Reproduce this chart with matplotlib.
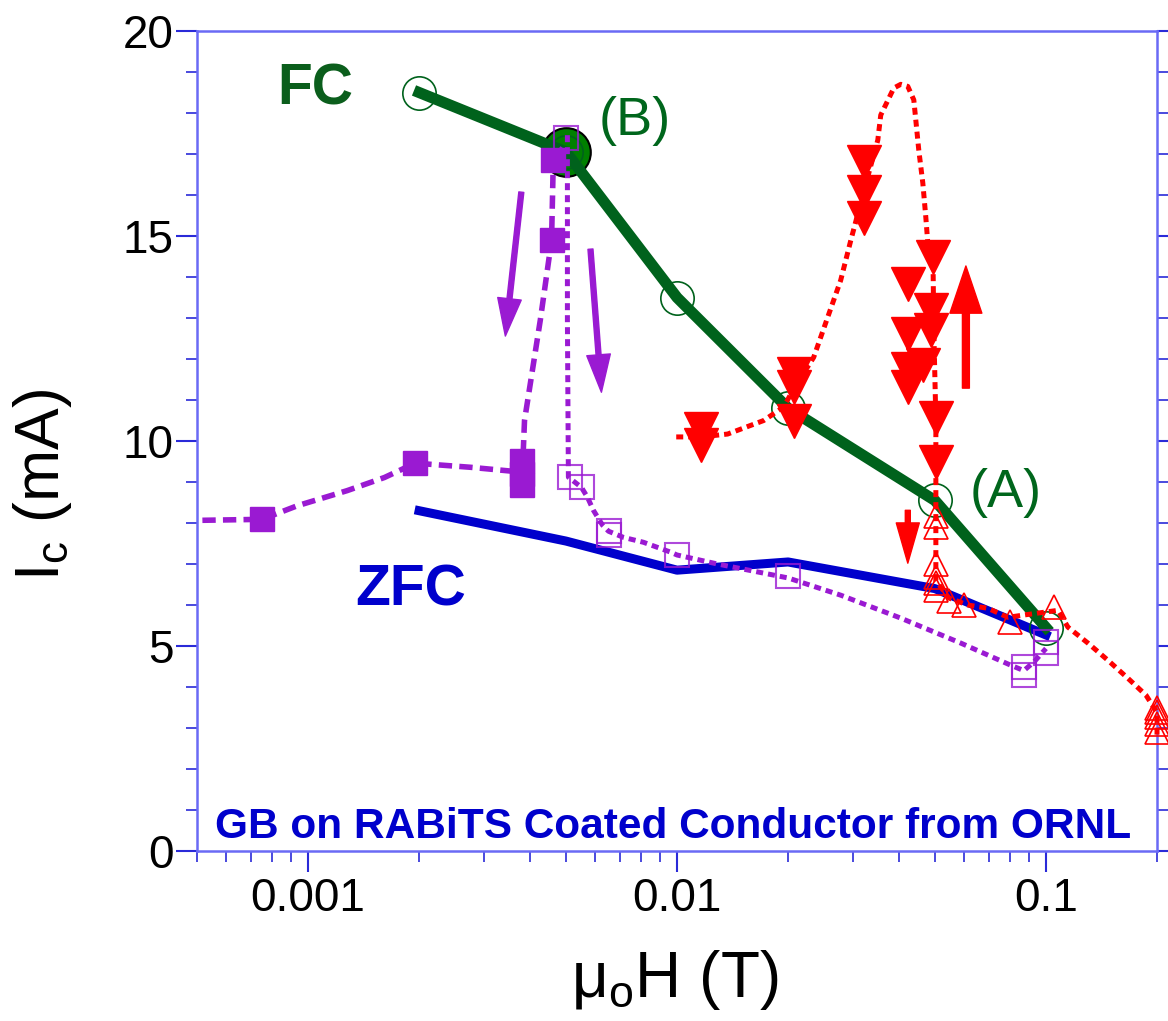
import matplotlib
matplotlib.use('Agg')
import matplotlib.pyplot as plt
from matplotlib.ticker import FixedLocator, FixedFormatter, LogLocator, MultipleLocator, NullFormatter

plt.rcParams['font.family'] = ['Liberation Sans', 'DejaVu Sans']
plt.rcParams['mathtext.fontset'] = 'custom'
plt.rcParams['mathtext.rm'] = 'Liberation Sans'
plt.rcParams['mathtext.it'] = 'Liberation Sans:italic'
plt.rcParams['mathtext.bf'] = 'Liberation Sans:bold'

GREEN = '#00621c'
BLUE = '#0000cc'
PURPLE = '#9a1ad2'
RED = '#ff0000'
SPINE = '#6a6af5'
TICK = '#2a2ad8'

# FC (field cooled)
fc_h = [0.002, 0.005, 0.01, 0.02, 0.05, 0.1]
fc_ic = [18.5, 17.05, 13.5, 10.8, 8.55, 5.45]
point_b_h = [0.005]
point_b_ic = [17.05]

# ZFC (zero field cooled)
zfc_h = [0.002, 0.005, 0.01, 0.02, 0.05, 0.1]
zfc_ic = [8.3, 7.56, 6.85, 7.05, 6.4, 5.27]

# purple filled squares (sweep up)
sq_h = [0.00075, 0.00195, 0.00381, 0.00381, 0.00381, 0.00457, 0.00462]
sq_ic = [8.09, 9.46, 9.51, 9.2, 8.92, 14.9, 16.85]
sq_curve_h = [0.0004, 0.00075, 0.000934, 0.001276, 0.00161, 0.00195, 0.00275,
              0.00381, 0.00386, 0.00426, 0.00457, 0.00462, 0.0049]
sq_curve_ic = [8.05, 8.09, 8.42, 8.79, 9.11, 9.46, 9.36,
               9.24, 10.5, 12.95, 14.9, 16.85, 17.15]

# purple open squares (sweep down)
osq_h = [0.00501, 0.00514, 0.00551, 0.00652, 0.00652, 0.01, 0.02, 0.0871, 0.0871, 0.1, 0.1]
osq_ic = [17.4, 9.12, 8.87, 7.80, 7.70, 7.22, 6.70, 4.48, 4.29, 5.09, 4.82]
osq_curve_h = [0.005045, 0.005045, 0.005076, 0.005506, 0.005716, 0.005934, 0.006278,
               0.00652, 0.006725, 0.007157, 0.008111, 0.009603, 0.01, 0.01288,
               0.02, 0.02777, 0.04042, 0.05881, 0.08035, 0.0871, 0.093, 0.1]
osq_curve_ic = [17.46, 12.95, 9.12, 8.87, 8.63, 8.31, 7.95,
                7.80, 7.75, 7.65, 7.53, 7.29, 7.22, 7.00,
                6.66, 6.24, 5.68, 5.07, 4.53, 4.40, 4.62, 4.94]

# red filled down triangles
tri_h = [0.0116, 0.0116, 0.0208, 0.0208, 0.0208, 0.0321, 0.0321, 0.0321, 0.0494,
         0.0422, 0.0422, 0.0422, 0.0422, 0.0464, 0.0488, 0.0488, 0.0503, 0.0503]
tri_ic = [10.3, 9.9, 11.63, 11.32, 10.49, 16.8, 16.07, 15.44, 14.49,
          13.83, 12.61, 11.75, 11.32, 11.85, 13.19, 12.72, 10.55, 9.49]
red_curve_h = [0.00995, 0.0116, 0.01371, 0.01717, 0.01945, 0.0208, 0.02346, 0.02561,
               0.02777, 0.02957, 0.0321, 0.03501, 0.03566, 0.03869, 0.0404, 0.04222,
               0.04383, 0.04522, 0.04637, 0.04724, 0.04783, 0.0494, 0.04966, 0.0503,
               0.0503, 0.0503, 0.05457, 0.06142, 0.06959, 0.07885, 0.08939, 0.1078,
               0.1147, 0.13, 0.1473, 0.1669, 0.1867, 0.2, 0.2]
red_curve_ic = [10.1, 10.1, 10.17, 10.5, 10.83, 11.3, 12.04, 13.02,
                13.92, 14.89, 16.1, 17.34, 17.95, 18.61, 18.70, 18.65,
                18.32, 17.09, 16.29, 15.46, 14.83, 14.49, 12.7, 10.51,
                8.56, 6.6, 6.17, 6.0, 5.92, 5.70, 5.77, 5.87,
                5.46, 5.07, 4.65, 4.21, 3.80, 3.38, 2.82]

# red open up triangles
otri_h = [0.0503, 0.0503, 0.0503, 0.0503, 0.0503, 0.0503, 0.0546, 0.0599, 0.0799, 0.1051,
          0.2, 0.2, 0.2, 0.2, 0.2]
otri_ic = [8.17, 7.90, 6.99, 6.68, 6.53, 6.36, 6.09, 6.0, 5.58, 5.94,
           3.5, 3.38, 3.26, 3.1, 2.9]

fig = plt.figure(figsize=(11.68, 10.21), dpi=100)
ax = fig.add_axes([0.1687, 0.1665, 0.8219, 0.8031])

ax.plot(zfc_h, zfc_ic, color=BLUE, lw=6.5, zorder=2)
ax.plot(point_b_h, point_b_ic, 'o', ms=35, mfc='#008000', mec='black', mew=1.5, zorder=2.5)
ax.plot(fc_h, fc_ic, color=GREEN, lw=8, zorder=3)
ax.plot(fc_h, fc_ic, 'o', ms=24, mfc='none', mec=GREEN, mew=1.2, zorder=3)

ax.plot(sq_curve_h, sq_curve_ic, color=PURPLE, lw=4, ls=(0, (2.4, 1.3)), zorder=4)
ax.plot(sq_h, sq_ic, 's', ms=17, color=PURPLE, zorder=4)
ax.plot(osq_curve_h, osq_curve_ic, color=PURPLE, lw=3.6, ls=(0, (1.4, 1.0)), zorder=4)
ax.plot(osq_h, osq_ic, 's', ms=17, mfc='none', mec=PURPLE, mew=1.5, alpha=0.8, zorder=4)

ax.plot(red_curve_h, red_curve_ic, color=RED, lw=3.6, ls=(0, (1.4, 1.0)), zorder=5, clip_on=False)
ax.plot(tri_h, tri_ic, 'v', ms=25, color=RED, zorder=5)
ax.plot(otri_h, otri_ic, '^', ms=17, mfc='none', mec=RED, mew=1.2, zorder=5, clip_on=False)

# arrows
def arrow(tail, tip, color, tw, hw, hl):
    ax.annotate('', xy=tip, xytext=tail,
                arrowprops=dict(arrowstyle=f'simple,head_length={hl},head_width={hw},tail_width={tw}',
                                color=color, shrinkA=0, shrinkB=0, mutation_scale=20), zorder=6)

arrow((0.003784, 16.07), (0.003425, 12.56), PURPLE, 0.18, 0.85, 1.35)
arrow((0.005826, 14.68), (0.006238, 11.19), PURPLE, 0.18, 0.85, 1.35)
arrow((0.06067, 11.29), (0.06067, 14.27), RED, 0.25, 1.15, 1.7)
arrow((0.04222, 8.31), (0.04222, 7.02), RED, 0.18, 0.83, 1.45)

# texts
ax.text(0.084, 0.910, 'FC', transform=ax.transAxes, color='#0b5e1c', fontsize=41,
        fontweight='bold', ha='left', va='baseline')
ax.text(0.418, 0.873, '(B)', transform=ax.transAxes, color='#00661c', fontsize=39,
        ha='left', va='baseline')
ax.text(0.805, 0.4195, '(A)', transform=ax.transAxes, color='#00661c', fontsize=39,
        ha='left', va='baseline')
ax.text(0.1646, 0.300, 'ZFC', transform=ax.transAxes, color=BLUE, fontsize=41,
        fontweight='bold', ha='left', va='baseline')
ax.text(0.019, 0.0159, 'GB on RABiTS Coated Conductor from ORNL', transform=ax.transAxes,
        color=BLUE, fontsize=30.5, fontweight='bold', ha='left', va='baseline')

ax.set_xscale('log')
ax.set_xlim(0.0005, 0.2)
ax.set_ylim(0, 20)
ax.xaxis.set_major_locator(FixedLocator([0.001, 0.01, 0.1]))
ax.xaxis.set_major_formatter(FixedFormatter(['0.001', '0.01', '0.1']))
ax.xaxis.set_minor_locator(LogLocator(base=10, subs=range(2, 10)))
ax.xaxis.set_minor_formatter(NullFormatter())
ax.yaxis.set_major_locator(MultipleLocator(5))
ax.yaxis.set_minor_locator(MultipleLocator(1))

ax.tick_params(which='both', direction='out', color=TICK, left=True, right=True,
               top=False, bottom=True, labelright=False)
ax.tick_params(which='major', length=15, width=1.5, labelsize=33)
ax.tick_params(axis='x', which='major', pad=4)
ax.tick_params(axis='y', which='major', pad=2)
ax.tick_params(which='minor', length=8, width=1.2)
for s in ax.spines.values():
    s.set_color(SPINE)
    s.set_linewidth(1.8)

ax.set_ylabel(r'I$_{\rm c}$ (mA)', fontsize=45, va='center')
ax.yaxis.set_label_coords(-0.161, 0.446)
ax.set_xlabel(r'μ$_{\rm o}$H (T)', fontsize=46, va='center')
ax.xaxis.set_label_coords(0.498, -0.157)

fig.savefig('out.png', dpi=100)
